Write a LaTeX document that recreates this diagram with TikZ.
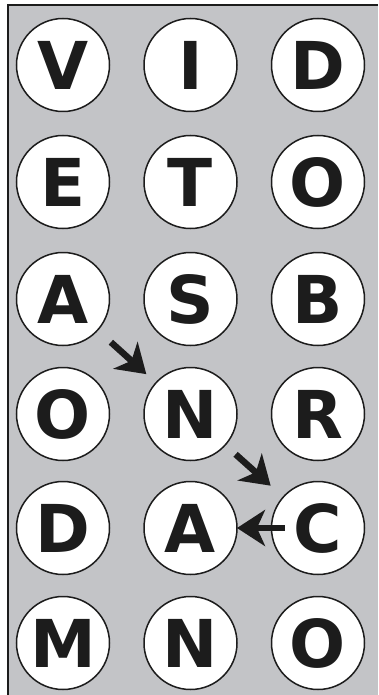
\documentclass[tikz,border=0pt]{standalone}
\usepackage{fontspec}
\newfontfamily\letterfont{DejaVu Sans}
\usetikzlibrary{arrows.meta}
\definecolor{boardgray}{RGB}{195,196,199}
\definecolor{ink}{RGB}{28,28,28}
\tikzset{
  tile/.style={circle, draw=ink, line width=1.5pt, fill=white,
    minimum size=93pt, inner sep=0pt, outer sep=0pt,
    font=\letterfont\bfseries\fontsize{66}{66}\selectfont, text=ink},
  move/.style={draw=ink, line width=6.5pt, -{Stealth[length=28pt,width=36pt,inset=8pt]}}
}
\begin{document}
\begin{tikzpicture}[x=1pt, y=-1pt]
  \useasboundingbox (0,0) rectangle (378,695);
  % board
  \fill[boardgray] (8,5) rectangle (378,695);
  \draw[ink, line width=2pt] (8,695) -- (8,5) -- (378,5);
  % row 1
  \node[tile] (v1) at (63,65) {V};
  \node[tile] (i1) at (190.5,65) {I};
  \node[tile] (d1) at (318,65) {D};
  % row 2
  \node[tile] (e2) at (63,182) {E};
  \node[tile] (t2) at (190.5,182) {T};
  \node[tile] (o2) at (318,182) {O};
  % row 3
  \node[tile] (a3) at (63,299) {A};
  \node[tile] (s3) at (190.5,299) {S};
  \node[tile] (b3) at (318,299) {B};
  % row 4
  \node[tile] (o4) at (63,414) {O};
  \node[tile] (n4) at (190.5,414) {N};
  \node[tile] (r4) at (318,414) {R};
  % row 5
  \node[tile] (d5) at (63,528) {D};
  \node[tile] (a5) at (190.5,528) {A};
  \node[tile] (c5) at (318,528) {C};
  % row 6
  \node[tile] (m6) at (63,643) {M};
  \node[tile] (n6) at (190.5,643) {N};
  \node[tile] (o6) at (318,643) {O};
  % path
  \draw[move, shorten <=18pt, shorten >=13pt] (a3) -- (n4);
  \draw[move, shorten <=14pt, shorten >=17pt] (n4) -- (c5);
  \draw[move, shorten <=-13pt, shorten >=0pt] (c5) -- (a5);
\end{tikzpicture}
\end{document}
